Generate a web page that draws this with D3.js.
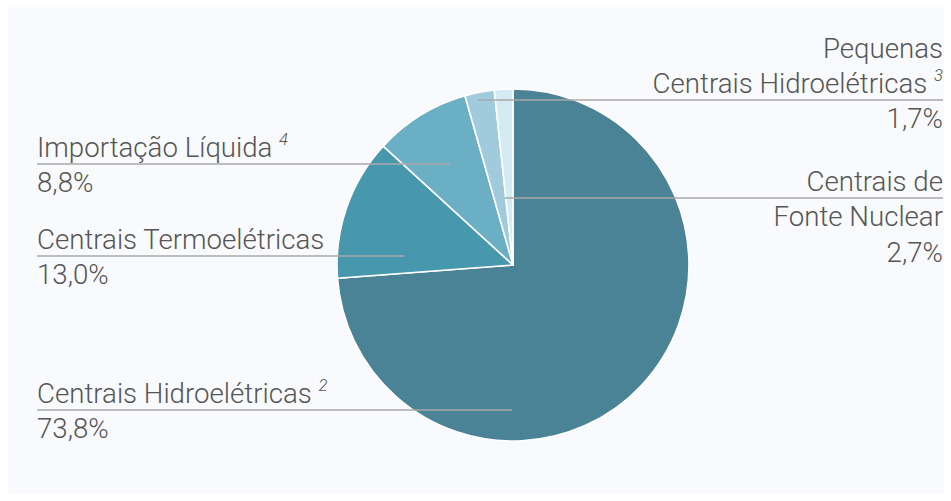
<!DOCTYPE html>
<html><head><meta charset="utf-8">
<script src="https://cdn.jsdelivr.net/npm/d3@7"></script>
<style>
html,body{margin:0;padding:0;background:#fff;}
svg text{font-family:Roboto,"Open Sans",sans-serif;font-weight:300;fill:#555;}
</style></head>
<body><svg id="c" width="951" height="501"></svg>
<script>
const categories = ["Centrais Hidroelétricas", "Centrais Termoelétricas", "Importação Líquida", "Centrais de Fonte Nuclear", "Pequenas Centrais Hidroelétricas"];
const values = [73.8, 13.0, 8.8, 2.7, 1.7];
const valueLabels = ["73,8%", "13,0%", "8,8%", "2,7%", "1,7%"];
const footnotes = ["2", "", "4", "", "3"];
const labelLines = [["Centrais Hidroelétricas"], ["Centrais Termoelétricas"], ["Importação Líquida"], ["Centrais de", "Fonte Nuclear"], ["Pequenas", "Centrais Hidroelétricas"]];
const colors = ["#4a8396", "#4898ad", "#6aafc4", "#9fcbdc", "#d4ebf4"];

const svg = d3.select("#c");
svg.append("rect").attr("x", 8).attr("y", 7).attr("width", 936).attr("height", 487).attr("fill", "#f9fafd");

const cx = 513, cy = 265, R = 176;
const pie = d3.pie().sort(null).value(d => d)(values);
const arc = d3.arc().innerRadius(0).outerRadius(R);
const g = svg.append("g").attr("transform", `translate(${cx},${cy})`);
g.selectAll("path").data(pie).join("path")
  .attr("d", arc).attr("fill", (d, i) => colors[i])
  .attr("stroke", "#fff").attr("stroke-width", 1.6).attr("stroke-linejoin", "round");

// label layout: side, leader y, number of label lines above the leader
const layout = [
  {side: "L", y: 410, endX: 512, above: 1},
  {side: "L", y: 256, endX: 404, above: 1},
  {side: "L", y: 164, endX: 450, above: 1},
  {side: "R", y: 198, startX: 505, above: 1},
  {side: "R", y: 100, startX: 478, above: 2}
];
const lineH = 35.5, fs = 28.5, sx = 0.97;
const leftX = 37, rightX = 943;

function addText(x, y, str, anchor, sup) {
  const t = svg.append("text")
    .attr("transform", `translate(${x},${y}) scale(${sx},1)`)
    .attr("text-anchor", anchor).attr("font-size", fs);
  t.append("tspan").text(str);
  if (sup) {
    t.append("tspan").text(" ");
    t.append("tspan").text(sup).attr("font-size", fs * 0.6).attr("dy", -12).attr("font-style", "italic");
  }
}

layout.forEach((L, i) => {
  const lines = labelLines[i].concat([valueLabels[i]]);
  const x1 = L.side === "L" ? leftX : L.startX;
  const x2 = L.side === "L" ? L.endX : rightX;
  svg.append("line").attr("x1", x1).attr("x2", x2).attr("y1", L.y).attr("y2", L.y)
    .attr("stroke", "#a8a8a8").attr("stroke-width", 1.5);
  const tx = L.side === "L" ? leftX : rightX;
  const anchor = L.side === "L" ? "start" : "end";
  lines.forEach((s, k) => {
    let by;
    if (k < L.above) by = L.y - 7 - (L.above - 1 - k) * lineH;
    else by = L.y + 28 + (k - L.above) * lineH;
    addText(tx, by, s, anchor, k === labelLines[i].length - 1 ? footnotes[i] : "");
  });
});
</script></body></html>
